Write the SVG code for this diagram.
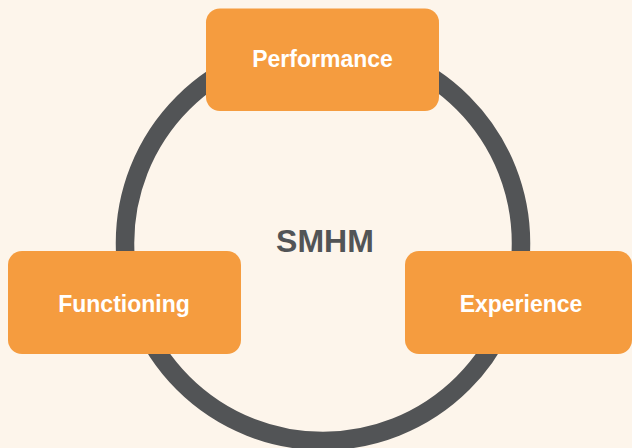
<svg xmlns="http://www.w3.org/2000/svg" width="632" height="448" viewBox="0 0 632 448">
  <style>
    .box { fill: #F59C3F; }
    .lbl { font-family: "Liberation Sans", Arial, sans-serif; font-weight: bold; font-size: 23px; fill: #FFFFFF; text-anchor: middle; }
    .center { font-family: "Liberation Sans", Arial, sans-serif; font-weight: bold; font-size: 32px; fill: #525456; text-anchor: middle; }
    .ring { fill: none; stroke: #525456; stroke-width: 18.5; }
  </style>
  <rect x="0" y="0" width="632" height="448" fill="#FDF5EB"/>
  <g id="connectors">
    <circle class="ring" cx="323" cy="243" r="198"/>
  </g>
  <g id="smhm">
    <text class="center" x="325" y="251.5">SMHM</text>
  </g>
  <g id="performance">
    <rect class="box" x="206" y="8.5" width="233" height="102.5" rx="14"/>
    <text class="lbl" x="322.5" y="66.5">Performance</text>
  </g>
  <g id="functioning">
    <rect class="box" x="8" y="251" width="233" height="103" rx="14"/>
    <text class="lbl" x="124" y="311.5">Functioning</text>
  </g>
  <g id="experience">
    <rect class="box" x="405" y="251" width="227" height="103" rx="14"/>
    <text class="lbl" x="521" y="311.5">Experience</text>
  </g>
</svg>
